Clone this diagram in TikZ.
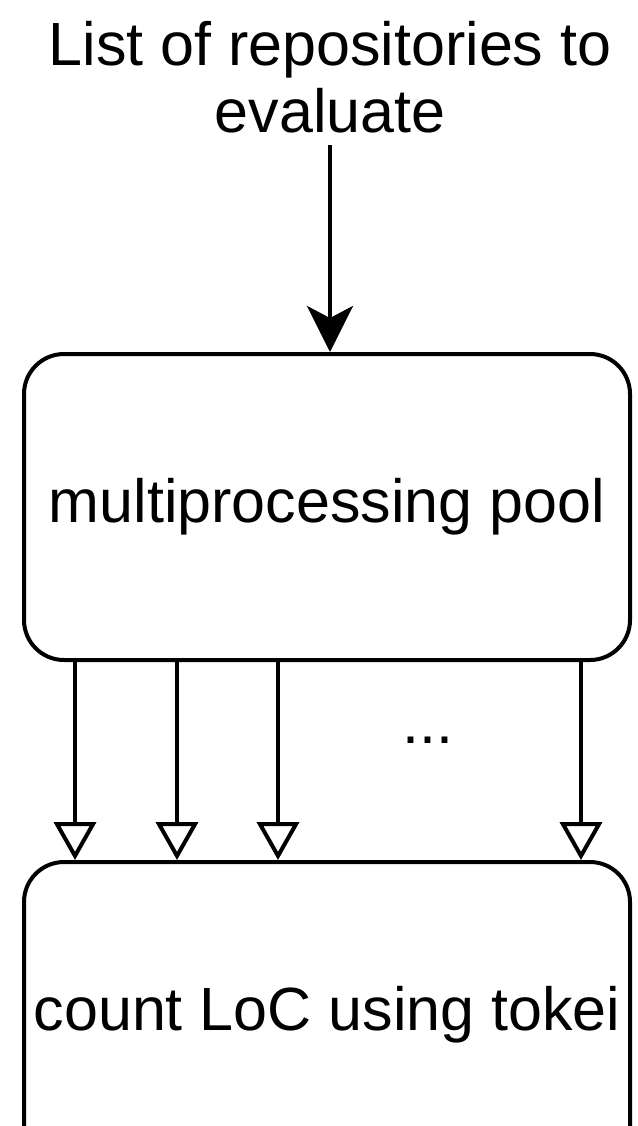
\documentclass[tikz,border=0pt]{standalone}
\usepackage{fontspec}
\setmainfont{Liberation Sans}
\usetikzlibrary{arrows.meta}

\tikzset{
  procbox/.style={draw, line width=2pt, rounded corners=20pt,
    minimum width=303pt, minimum height=153pt,
    font=\fontsize{30.5}{33.5}\selectfont},
  feed/.style={line width=2pt, -{Stealth[length=23pt, width=23pt, inset=6pt]}},
  fanout/.style={line width=2pt, -{Triangle[open, length=19pt, width=21pt, fill=white]}}
}

\begin{document}
\begin{tikzpicture}[x=0.5pt, y=-0.5pt]
            \useasboundingbox (0,0) rectangle (638,1126);
            \clip (0,0) rectangle (638,1126);
            % Input text
            \node[align=center, inner sep=6pt, font=\fontsize{30.5}{33.5}\selectfont] (repos) at (330,77)
              {List of repositories to\\evaluate};
            % Worker pool and counting stage
            \node[procbox] (pool) at (327,507) {multiprocessing pool};
            \node[procbox] (count) at (327,1015) {count LoC using tokei};
            % Input goes straight down into the pool
            \draw[feed] (repos.south) -- (repos.south |- pool.north);
            % One arrow per worker
            \foreach \x in {75,177,278,581}
              \draw[fanout] (pool.south -| \x,0) -- (count.north -| \x,0);
            \node[font=\fontsize{30.5}{33.5}\selectfont] (dots) at (428,740) {...};
        \end{tikzpicture}
\end{document}
